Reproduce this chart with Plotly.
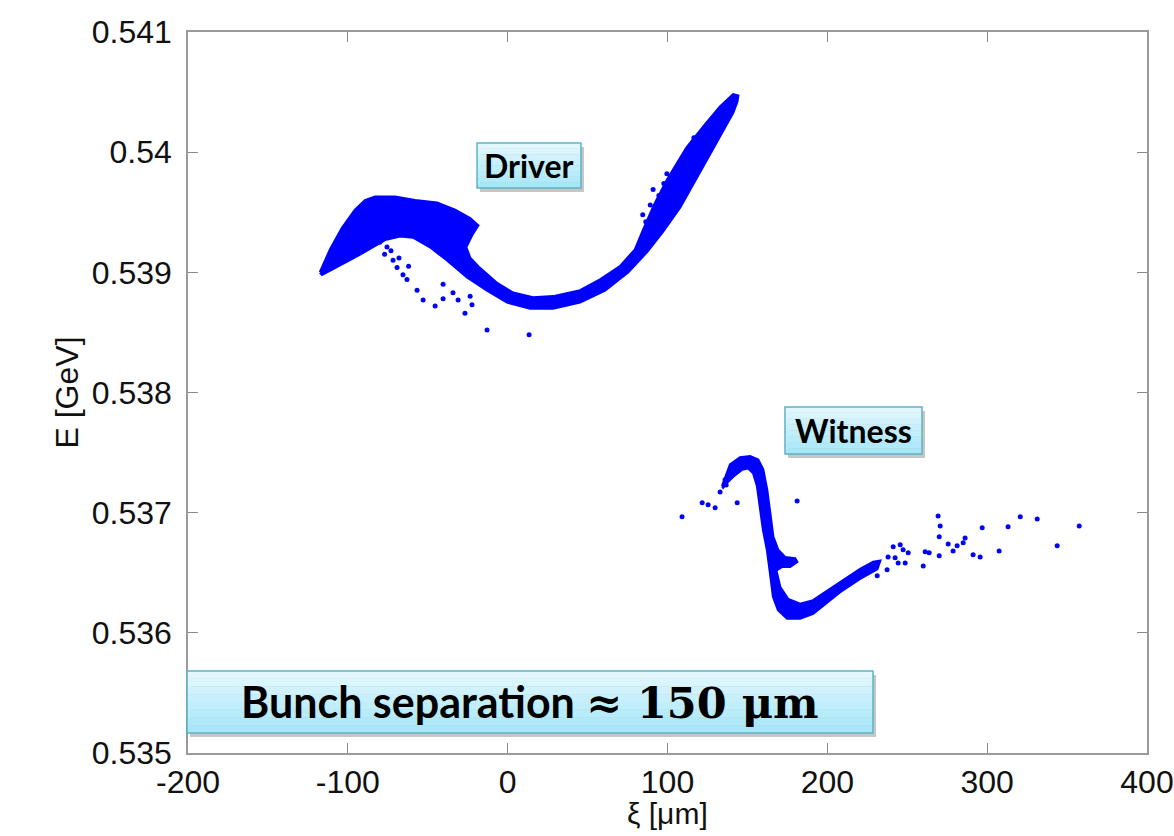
import plotly.graph_objects as go

# ---------------- data ----------------
# Driver bunch: outline of the dense particle band (xi [um], E [GeV])
driver_edge_x = [-117.4, -111.1, -103.6, -95.5, -89.2, -83.0, -70.5, -57.9, -44.2, -32.9,
                 -23.5, -18.5, -22.3, -26.0, -23.5, -18.5, -6.6, 3.4, 15.9, 28.4,
                 45.3, 57.8, 70.3, 79.7, 84.7, 91.6, 99.7, 112.0, 123.5, 132.9,
                 141.1, 144.2, 143.6, 141.1, 129.8, 117.3, 107.9, 97.2, 87.2, 75.3,
                 60.9, 45.3, 28.4, 14.0, -0.4, -12.9, -25.4, -37.9, -48.6, -59.2,
                 -67.3, -76.7, -81.7, -92.4, -100.5, -108.0, -116.1]
driver_edge_y = [0.53900, 0.53919, 0.53937, 0.53952, 0.53960, 0.53963, 0.53963, 0.53960, 0.53958, 0.53952,
                 0.53945, 0.53939, 0.53931, 0.53921, 0.53912, 0.53905, 0.53891, 0.53883, 0.53879, 0.53880,
                 0.53885, 0.53894, 0.53905, 0.53919, 0.53935, 0.53956, 0.53977, 0.54004, 0.54023, 0.54038,
                 0.54048, 0.54047, 0.54042, 0.54033, 0.54006, 0.53977, 0.53954, 0.53934, 0.53917, 0.53900,
                 0.53885, 0.53875, 0.53870, 0.53870, 0.53875, 0.53885, 0.53896, 0.53910, 0.53921, 0.53929,
                 0.53930, 0.53927, 0.53923, 0.53915, 0.53909, 0.53904, 0.53898]

# Driver bunch: isolated particles
driver_halo_x = [-80.0, -77.0, -75.5, -73.0, -71.7, -69.2, -68.0, -65.5, -63.0, -62.0,
                 -56.7, -52.9, -45.4, -40.4, -40.4, -34.2, -31.0, -26.7, -23.5, -22.3,
                 -12.9, 13.4, 84.5, 86.4, 89.2, 91.0, 94.6, 97.7, 99.6, 116.5]
driver_halo_y = [0.53925, 0.53915, 0.53921, 0.53918, 0.53910, 0.53904, 0.53912, 0.53898, 0.53894, 0.53905,
                 0.53885, 0.53877, 0.53872, 0.53890, 0.53878, 0.53883, 0.53877, 0.53866, 0.53880, 0.53873,
                 0.53852, 0.53848, 0.53948, 0.53942, 0.53956, 0.53969, 0.53964, 0.53974, 0.53982, 0.54012]

# Witness bunch: outline of the dense particle band
witness_edge_x = [134.2, 139.2, 145.4, 151.7, 156.7, 159.8, 162.3, 164.2, 166.1, 169.2,
                  173.6, 179.8, 181.1, 176.7, 171.7, 168.0, 170.5, 175.5, 183.0, 191.1,
                  199.9, 209.9, 220.5, 228.7, 233.0, 231.2, 220.5, 208.0, 197.4, 191.1,
                  183.0, 174.8, 169.2, 166.1, 164.2, 162.3, 159.8, 157.9, 156.1, 153.6,
                  150.4, 146.7, 141.1, 137.3, 134.8]
witness_edge_y = [0.53722, 0.53740, 0.53746, 0.53747, 0.53744, 0.53736, 0.53719, 0.53697, 0.53680, 0.53669,
                  0.53663, 0.53662, 0.53659, 0.53655, 0.53655, 0.53652, 0.53638, 0.53628, 0.53624, 0.53627,
                  0.53635, 0.53644, 0.53653, 0.53659, 0.53660, 0.53653, 0.53645, 0.53634, 0.53623, 0.53616,
                  0.53612, 0.53612, 0.53619, 0.53630, 0.53650, 0.53669, 0.53686, 0.53705, 0.53722, 0.53733,
                  0.53737, 0.53736, 0.53730, 0.53725, 0.53721]

# Witness bunch: isolated particles
witness_halo_x = [109.1, 121.7, 125.4, 129.8, 132.9, 136.0, 136.7, 139.2, 143.6, 181.1,
                  231.2, 237.4, 238.0, 241.2, 242.4, 244.3, 245.6, 247.4, 248.7, 250.6,
                  260.0, 261.2, 263.7, 269.3, 270.6, 270.0, 270.0, 275.6, 278.7, 281.2,
                  285.0, 286.2, 291.2, 295.6, 296.9, 307.5, 313.1, 320.7, 331.3, 343.8,
                  357.6]
witness_halo_y = [0.536965, 0.537082, 0.537065, 0.537040, 0.537173, 0.537273, 0.537231, 0.537323, 0.537082, 0.537098,
                  0.536474, 0.536524, 0.536632, 0.536716, 0.536624, 0.536582, 0.536732, 0.536691, 0.536582, 0.536666,
                  0.536557, 0.536674, 0.536666, 0.536973, 0.536890, 0.536799, 0.536641, 0.536740, 0.536682, 0.536724,
                  0.536749, 0.536790, 0.536649, 0.536632, 0.536874, 0.536682, 0.536882, 0.536965, 0.536948, 0.536724,
                  0.536890]

x_ticks = [-200, -100, 0, 100, 200, 300, 400]
x_tick_labels = ["-200", "-100", "0", "100", "200", "300", "400"]
y_ticks = [0.535, 0.536, 0.537, 0.538, 0.539, 0.540, 0.541]
y_tick_labels = ["0.535", "0.536", "0.537", "0.538", "0.539", "0.54", "0.541"]

BLUE = "#0000ff"

fig = go.Figure()

for ex, ey, name in [(driver_edge_x, driver_edge_y, "Driver"),
                     (witness_edge_x, witness_edge_y, "Witness")]:
    fig.add_trace(go.Scatter(
        x=ex + ex[:1], y=ey + ey[:1], mode="lines", fill="toself",
        fillcolor=BLUE, line=dict(color=BLUE, width=2.5),
        name=name, showlegend=False, hoverinfo="skip"))

for hx, hy, name in [(driver_halo_x, driver_halo_y, "Driver"),
                     (witness_halo_x, witness_halo_y, "Witness")]:
    fig.add_trace(go.Scatter(
        x=hx, y=hy, mode="markers", name=name, showlegend=False,
        marker=dict(color=BLUE, size=5, symbol="circle", line=dict(width=0))))

# ---------------- callout boxes ----------------
shapes = []


def callout(x0, x1, y0, y1):
    dx, dy = 3 / 959, 4 / 721
    shapes.append(dict(type="rect", xref="paper", yref="paper",
                       x0=x0 + dx, x1=x1 + dx, y0=y0 - dy, y1=y1 - dy,
                       line=dict(width=0), fillcolor="rgba(0,0,0,0.22)", layer="above"))
    n = 8
    top = (226, 247, 253)
    bot = (166, 231, 250)
    for i in range(n):
        t = i / (n - 1)
        c = tuple(round(top[k] + (bot[k] - top[k]) * t) for k in range(3))
        ya = y1 - (y1 - y0) * i / n
        yb = y1 - (y1 - y0) * (i + 1) / n
        shapes.append(dict(type="rect", xref="paper", yref="paper",
                           x0=x0, x1=x1, y0=yb, y1=ya,
                           line=dict(width=0), fillcolor="rgb(%d,%d,%d)" % c, layer="above"))
    shapes.append(dict(type="rect", xref="paper", yref="paper",
                       x0=x0, x1=x1, y0=y0, y1=y1,
                       line=dict(width=1.5, color="#5fb3c6"), fillcolor="rgba(0,0,0,0)",
                       layer="above"))


callout(0.3014, 0.4098, 0.7836, 0.8460)   # Driver
callout(0.6225, 0.7654, 0.4147, 0.4799)   # Witness
callout(-0.001, 0.7143, 0.0277, 0.1137)   # Bunch separation

annotations = [
    dict(text="<b>Driver</b>", xref="paper", yref="paper", x=0.3556, y=0.8148,
         xanchor="center", yanchor="middle",
         showarrow=False, font=dict(family="Lato", size=32, color="#000000")),
    dict(text="<b>Witness</b>", xref="paper", yref="paper", x=0.6940, y=0.4473,
         xanchor="center", yanchor="middle",
         showarrow=False, font=dict(family="Lato", size=32, color="#000000")),
    dict(text="<b>Bunch separation</b> <span style=\"font-family:'DejaVu Serif';font-weight:bold\">≈ 150 μm</span>",
         xref="paper", yref="paper", x=0.3566, y=0.0707,
         xanchor="center", yanchor="middle",
         showarrow=False, font=dict(family="Lato", size=43, color="#000000")),
    # x-axis title
    dict(text="ξ [μm]", xref="paper", yref="paper", x=0.5, y=-0.0846,
         xanchor="center", yanchor="middle", showarrow=False,
         font=dict(family="Liberation Sans, Arial", size=30, color="#111111")),
]

axis_common = dict(
    showgrid=False, zeroline=False, showline=True, linecolor="#9a9a9a", linewidth=1.5,
    mirror="ticks", ticks="inside", ticklen=10, tickwidth=1, tickcolor="#8a8a8a",
    automargin=False,
    tickfont=dict(family="Liberation Sans, Arial", size=32, color="#111111"),
    title_font=dict(family="Liberation Sans, Arial", size=32, color="#111111"),
)

fig.update_layout(
    width=1174, height=836,
    margin=dict(l=188, r=27, t=32, b=83),
    paper_bgcolor="white", plot_bgcolor="white",
    shapes=shapes, annotations=annotations,
    xaxis=dict(range=[-200, 400], tickvals=x_ticks, ticktext=x_tick_labels,
               ticklabelstandoff=0, **axis_common),
    yaxis=dict(range=[0.535, 0.541], tickvals=y_ticks, ticktext=y_tick_labels,
               title=dict(text="E [GeV]", standoff=4), ticklabelstandoff=8, **axis_common),
)

fig.write_html("out.html")
